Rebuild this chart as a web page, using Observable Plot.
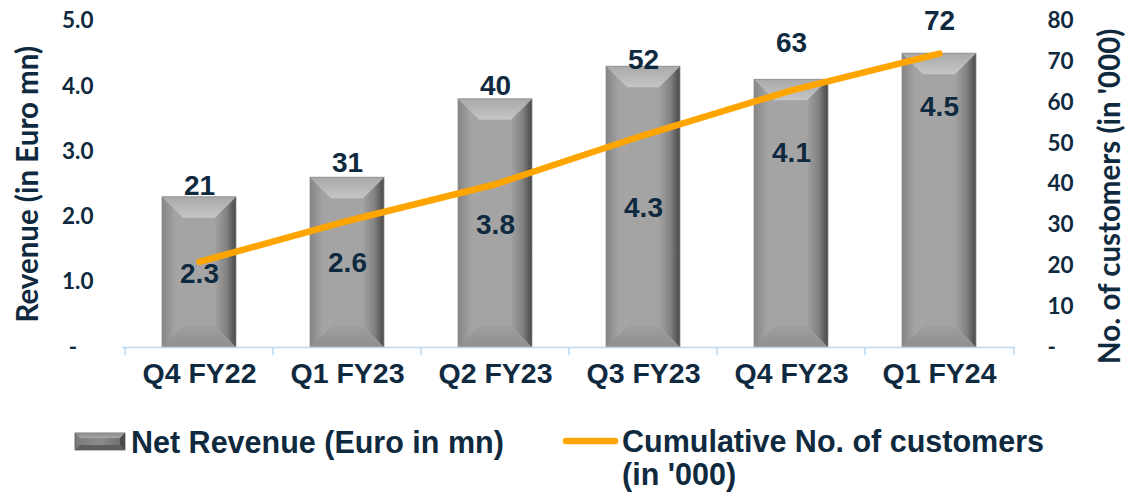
<!DOCTYPE html>
<html><head><meta charset="utf-8">
<script src="https://cdn.jsdelivr.net/npm/d3@7"></script>
<script src="https://cdn.jsdelivr.net/npm/@observablehq/plot@0.6"></script>
<style>
html,body{margin:0;padding:0;background:#fff;}
#wrap{position:relative;width:1125px;height:494px;overflow:hidden;}
#wrap svg{position:absolute;left:0;top:0;}
</style></head><body><div id="wrap"></div>
<script>
// ---- data ----
const quarters = ["Q4 FY22", "Q1 FY23", "Q2 FY23", "Q3 FY23", "Q4 FY23", "Q1 FY24"];
const revenue = [2.3, 2.6, 3.8, 4.3, 4.1, 4.5];          // Euro mn (left axis)
const customers = [21, 31, 40, 52, 63, 72];               // '000 (right axis)
const revenueLabelAt = [1.13, 1.30, 1.87, 2.14, 2.98, 3.69];   // where the revenue labels sit (left-axis units)
const customerLabelAt = [2.47, 2.83, 4.0, 4.40, 4.67, 5.0];    // where the customer labels sit (left-axis units)
const leftTicks = [0, 1, 2, 3, 4, 5];
const leftTickLabels = ["-\u00a0\u00a0\u00a0", "1.0", "2.0", "3.0", "4.0", "5.0"];
const rightTicks = [0, 10, 20, 30, 40, 50, 60, 70, 80];
const rightTickLabels = ["-", "10", "20", "30", "40", "50", "60", "70", "80"];
const revMax = 5, custMax = 80;
const legendRevenue = "Net Revenue (Euro in mn)";
const legendCustomers = ["Cumulative No. of customers", "(in '000)"];
const leftTitle = "Revenue (in Euro mn)";
const rightTitle = "No. of customers (in '000)";

// ---- styles ----
const navy = "#0f2a3f";
const orange = "#ffa500";
const axisBlue = "#bdd7ee";
const arial = "'Liberation Sans', Arial, sans-serif";
const lato = "Lato, 'Open Sans', sans-serif";

const rows = quarters.map((q, i) => ({q, rev: revenue[i], cust: customers[i], revAt: revenueLabelAt[i], custAt: customerLabelAt[i]}));
const toRev = c => c * revMax / custMax;

const plot = Plot.plot({
  width: 1125, height: 494,
  marginLeft: 122, marginRight: 110, marginTop: 20.5, marginBottom: 147,
  style: {background: "transparent", overflow: "visible"},
  x: {domain: quarters, paddingInner: 0.5, paddingOuter: 0.25, axis: null},
  y: {domain: [0, revMax], axis: null},
  marks: [
    Plot.barY(rows, {x: "q", y: "rev", fill: "#a4a4a4"}),
    Plot.ruleY([0], {stroke: axisBlue, strokeWidth: 1.5}),
    Plot.ruleX(quarters, {x: d => d, y1: 0, y2: -0.125, dx: -74.4, stroke: axisBlue, strokeWidth: 1.5}),
    Plot.ruleX([quarters[quarters.length - 1]], {x: d => d, y1: 0, y2: -0.125, dx: 74.4, stroke: axisBlue, strokeWidth: 1.5}),
    Plot.line(rows, {x: "q", y: d => toRev(d.cust), stroke: orange, strokeWidth: 6.5, strokeLinecap: "round", strokeLinejoin: "round"}),
    Plot.text(rows, {x: "q", y: "revAt", text: d => d.rev.toFixed(1), fill: navy, fontFamily: arial, fontWeight: "bold", fontSize: 28}),
    Plot.text(rows, {x: "q", y: "custAt", text: d => String(d.cust), fill: navy, fontFamily: arial, fontWeight: "bold", fontSize: 28}),
    Plot.text(quarters, {x: d => d, text: d => d, frameAnchor: "bottom", dy: 35, fill: navy, fontFamily: arial, fontWeight: "bold", fontSize: 28.5}),
    Plot.text(leftTicks, {y: d => d, text: (d, i) => leftTickLabels[i], frameAnchor: "left", textAnchor: "end", dx: -29, fill: navy, fontFamily: lato, fontWeight: "bold", fontSize: 22.5}),
    Plot.text(rightTicks, {y: d => toRev(d), text: (d, i) => rightTickLabels[i], frameAnchor: "right", textAnchor: "start", dx: 32, fill: navy, fontFamily: lato, fontWeight: "bold", fontSize: 22.5}),
    Plot.text([leftTitle], {text: d => d, frameAnchor: "left", textAnchor: "middle", rotate: -90, dx: -94, fill: navy, fontFamily: lato, fontWeight: "bold", fontSize: 29.5}),
    Plot.text([rightTitle], {text: d => d, frameAnchor: "right", textAnchor: "middle", rotate: -90, dx: 95, dy: 12, fill: navy, fontFamily: lato, fontWeight: "bold", fontSize: 29.5})
  ]
});

// ---- bevel effect on bars ----
const ns = "http://www.w3.org/2000/svg";
const defs = document.createElementNS(ns, "defs");
defs.innerHTML = `
<linearGradient id="gTop" x1="0" y1="0" x2="0" y2="1"><stop offset="0" stop-color="#a9a9a9"/><stop offset="1" stop-color="#c6c6c6"/></linearGradient>
<linearGradient id="gLeft" x1="0" y1="0" x2="1" y2="0"><stop offset="0" stop-color="#858585"/><stop offset="0.6" stop-color="#a3a3a3"/><stop offset="1" stop-color="#a6a6a6"/></linearGradient>
<linearGradient id="gRight" x1="0" y1="0" x2="1" y2="0"><stop offset="0" stop-color="#a2a2a2"/><stop offset="0.55" stop-color="#828282"/><stop offset="1" stop-color="#474747"/></linearGradient>
<linearGradient id="gBottom" x1="0" y1="0" x2="0" y2="1"><stop offset="0" stop-color="#a0a0a0"/><stop offset="1" stop-color="#8e8e8e"/></linearGradient>`;
plot.insertBefore(defs, plot.firstChild);

function bevel(g, x, y, w, h, b) {
  const P = (pts, fill) => {
    const p = document.createElementNS(ns, "polygon");
    p.setAttribute("points", pts.map(d => d.join(",")).join(" "));
    p.setAttribute("fill", fill);
    g.appendChild(p);
  };
  P([[x, y + h], [x + b, y + h - b], [x + w - b, y + h - b], [x + w, y + h]], "url(#gBottom)");
  P([[x, y], [x + b, y + b], [x + b, y + h - b], [x, y + h]], "url(#gLeft)");
  P([[x + w, y], [x + w, y + h], [x + w - b, y + h - b], [x + w - b, y + b]], "url(#gRight)");
  P([[x, y], [x + w, y], [x + w - b, y + b], [x + b, y + b]], "url(#gTop)");
  const o = document.createElementNS(ns, "rect");
  o.setAttribute("x", x); o.setAttribute("y", y); o.setAttribute("width", w); o.setAttribute("height", h);
  o.setAttribute("fill", "none"); o.setAttribute("stroke", "#8f8f8f"); o.setAttribute("stroke-width", "0.8");
  g.appendChild(o);
}
const barG = plot.querySelector('g[aria-label="bar"]');
if (barG) {
  [...barG.querySelectorAll("rect")].forEach(r => {
    const x = +r.getAttribute("x"), y = +r.getAttribute("y"), w = +r.getAttribute("width"), h = +r.getAttribute("height");
    bevel(barG, x, y, w, h, 21);
  });
}
document.getElementById("wrap").appendChild(plot);

// ---- legend ----
const leg = document.createElementNS(ns, "svg");
leg.setAttribute("width", 1125); leg.setAttribute("height", 494);
leg.innerHTML = `
<defs>
<linearGradient id="lgTop" x1="0" y1="0" x2="0" y2="1"><stop offset="0" stop-color="#8a8a8a"/><stop offset="1" stop-color="#a8a8a8"/></linearGradient>
<linearGradient id="lgFace" x1="0" y1="0" x2="1" y2="0"><stop offset="0" stop-color="#7a7a7a"/><stop offset="0.5" stop-color="#8c8c8c"/><stop offset="1" stop-color="#6a6a6a"/></linearGradient>
</defs>
<g transform="translate(75,433)">
  <rect width="50" height="17" fill="url(#lgFace)" stroke="#5a5a5a" stroke-width="0.8"/>
  <polygon points="0,0 50,0 45,5 5,5" fill="url(#lgTop)"/>
  <polygon points="50,0 50,17 45,12 45,5" fill="#4a4a4a"/>
  <polygon points="0,17 5,12 45,12 50,17" fill="#5e5e5e"/>
</g>
<text x="131" y="453" fill="${navy}" font-family="${arial}" font-weight="bold" font-size="30.5">${legendRevenue}</text>
<line x1="566" x2="615" y1="441" y2="441" stroke="${orange}" stroke-width="6.5" stroke-linecap="round"/>
<text x="622" y="452" fill="${navy}" font-family="${arial}" font-weight="bold" font-size="30.5">${legendCustomers[0]}</text>
<text x="622" y="485" fill="${navy}" font-family="${arial}" font-weight="bold" font-size="30.5">${legendCustomers[1]}</text>`;
document.getElementById("wrap").appendChild(leg);
</script></body></html>
